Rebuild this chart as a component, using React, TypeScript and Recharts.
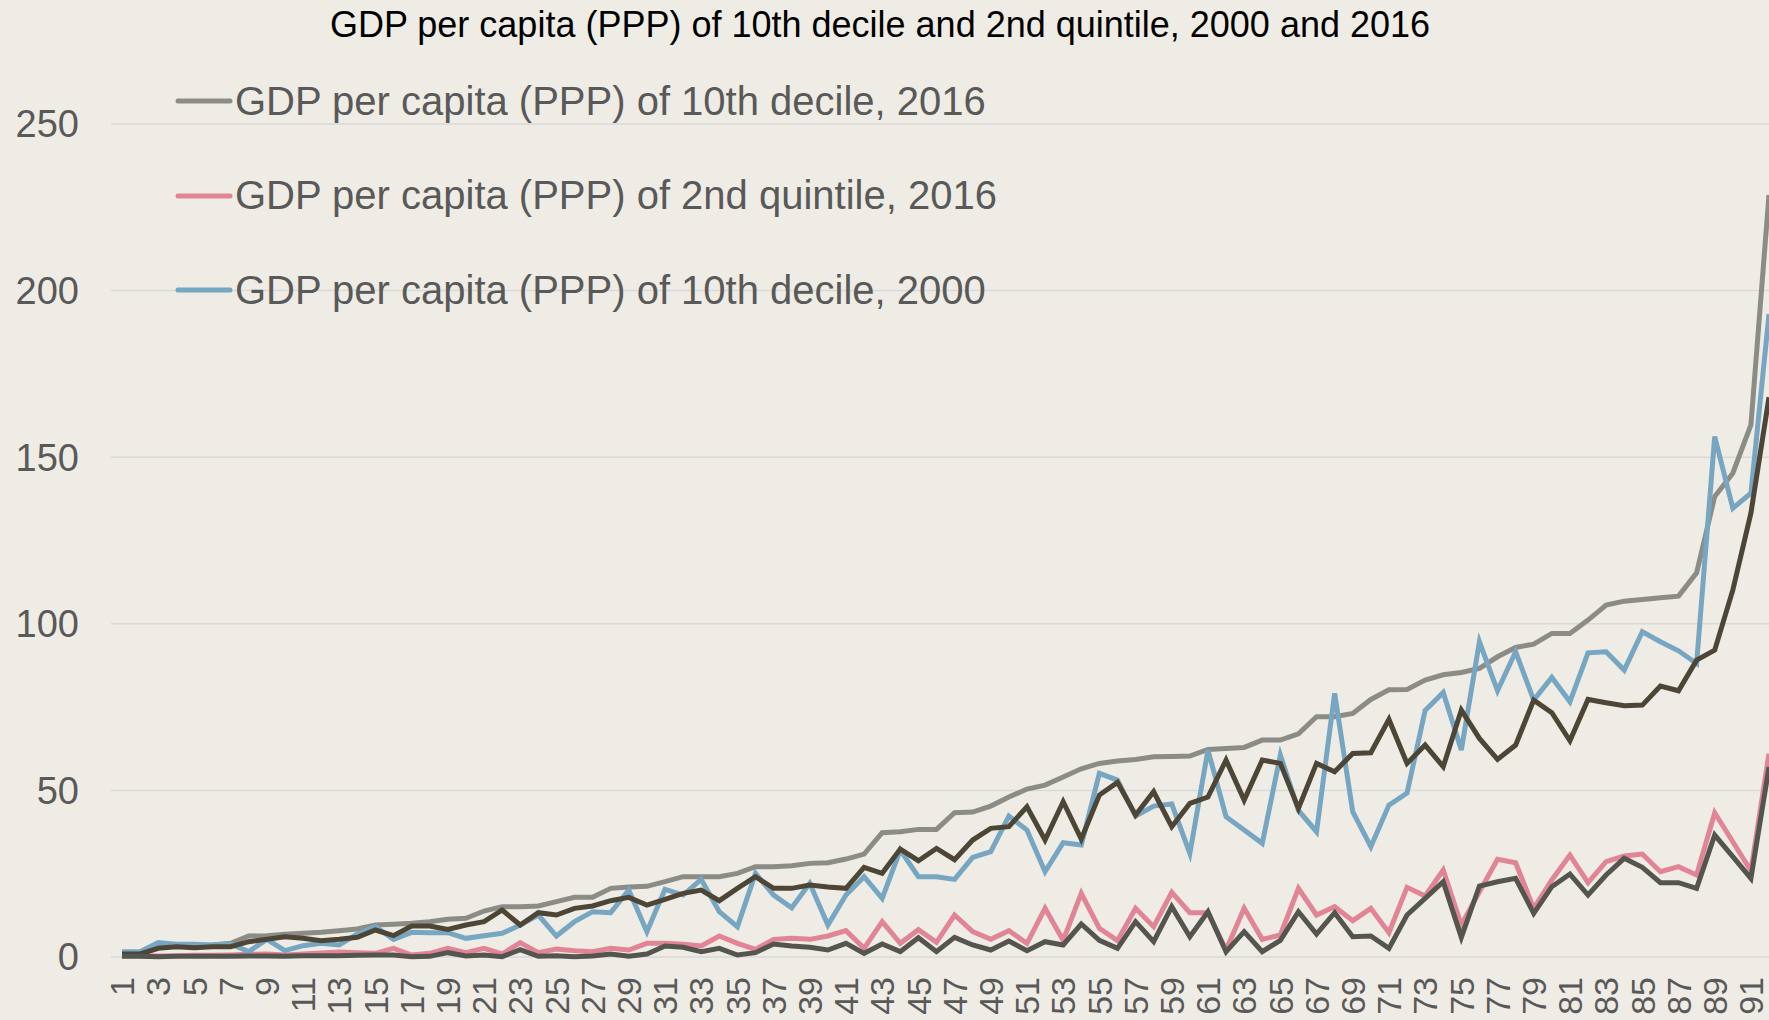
import React from "react";
import { LineChart, Line, XAxis, YAxis, CartesianGrid, Legend } from "recharts";

const categories: number[] = Array.from({ length: 92 }, (_, i) => i + 1);
const xTickLabels: number[] = categories.filter((c) => c % 2 === 1);
const yTicks: number[] = [0, 50, 100, 150, 200, 250];

const titleText = "GDP per capita (PPP) of 10th decile and 2nd quintile, 2000 and 2016";

const seriesNames = {
  d10_2016: "GDP per capita (PPP) of 10th decile, 2016",
  q2_2016: "GDP per capita (PPP) of 2nd quintile, 2016",
  d10_2000: "GDP per capita (PPP) of 10th decile, 2000",
  extraA: "Series 4",
  extraB: "Series 5",
};
const legendOrder: string[] = [seriesNames.d10_2016, seriesNames.q2_2016, seriesNames.d10_2000];

const decile10_2016: number[] = [
  1.3, 1.3, 3.3, 3.4, 3.5, 3.6, 4.1, 6.3, 6.4, 6.8,
  7.1, 7.4, 7.9, 8.4, 9.6, 9.8, 10.1, 10.6, 11.3, 11.6,
  13.8, 15.1, 15.1, 15.3, 16.6, 17.9, 17.9, 20.6, 21.0, 21.2,
  22.6, 24.1, 24.1, 24.1, 25.1, 27.1, 27.1, 27.4, 28.1, 28.3,
  29.4, 30.9, 37.3, 37.6, 38.3, 38.3, 43.3, 43.5, 45.3, 48.0,
  50.4, 51.6, 54.0, 56.5, 58.1, 58.8, 59.3, 60.1, 60.2, 60.3,
  62.3, 62.6, 62.9, 65.1, 65.1, 67.0, 72.1, 72.1, 73.1, 77.3,
  80.2, 80.3, 83.1, 84.7, 85.4, 86.6, 90.1, 92.9, 93.9, 97.1,
  97.1, 101.1, 105.6, 106.8, 107.3, 107.8, 108.3, 115.3, 138.2, 145.2,
  159.7, 228.7,
];

const quintile2_2016: number[] = [
  0.4, 0.4, 0.3, 0.4, 0.5, 0.5, 0.6, 0.8, 0.9, 0.6,
  0.9, 1.2, 1.5, 1.3, 1.1, 2.6, 0.6, 1.1, 2.6, 1.3,
  2.6, 0.9, 4.3, 1.3, 2.4, 1.9, 1.6, 2.6, 2.1, 4.1,
  4.1, 3.8, 3.3, 6.3, 4.1, 2.3, 5.3, 5.6, 5.3, 6.3,
  7.9, 2.6, 10.6, 4.1, 8.2, 4.4, 12.6, 7.6, 5.3, 7.9,
  4.1, 14.6, 5.0, 19.1, 8.6, 4.9, 14.6, 9.1, 19.4, 13.3,
  13.3, 2.1, 14.6, 5.3, 6.6, 20.6, 12.6, 15.1, 10.9, 14.6,
  7.3, 20.9, 18.3, 26.1, 9.6, 19.6, 29.3, 28.3, 14.6, 23.1,
  30.6, 22.3, 28.6, 30.3, 30.9, 25.6, 27.1, 24.6, 43.3, 34.6,
  25.9, 61.0,
];

const decile10_2000: number[] = [
  1.6, 1.6, 4.3, 3.8, 3.8, 3.6, 3.9, 1.6, 5.3, 1.9,
  3.4, 4.1, 3.6, 6.9, 9.1, 5.3, 7.4, 7.3, 7.3, 5.6,
  6.4, 7.1, 9.6, 12.6, 6.3, 10.6, 13.6, 13.3, 20.1, 7.6,
  20.3, 18.6, 23.3, 13.6, 9.1, 25.1, 18.6, 14.8, 22.1, 9.6,
  18.6, 24.1, 17.6, 32.1, 24.1, 24.1, 23.3, 29.9, 31.6, 42.3,
  38.1, 25.6, 34.3, 33.6, 55.1, 53.1, 42.3, 45.3, 45.9, 31.1,
  62.1, 42.1, 38.1, 34.1, 60.6, 44.0, 37.6, 79.1, 43.6, 33.1,
  45.6, 49.2, 74.0, 79.4, 62.1, 94.6, 79.9, 91.6, 77.1, 83.9,
  76.6, 91.3, 91.6, 86.1, 97.6, 94.6, 91.9, 88.1, 156.2, 134.7,
  139.2, 193.0,
];

const extraSeriesA: number[] = [
  0.9, 0.9, 2.6, 3.1, 2.8, 3.1, 3.1, 4.6, 5.3, 6.1,
  5.6, 4.9, 5.3, 5.9, 8.1, 6.4, 9.3, 9.3, 8.3, 9.6,
  10.6, 14.1, 9.6, 13.3, 12.6, 14.6, 15.3, 16.9, 17.9, 15.6,
  17.3, 19.1, 20.1, 16.9, 20.6, 24.1, 20.6, 20.6, 21.6, 21.0,
  20.6, 26.9, 25.1, 32.4, 28.9, 32.6, 29.2, 35.1, 38.6, 39.1,
  45.1, 35.1, 46.6, 35.4, 48.6, 52.4, 42.6, 49.6, 39.1, 46.1,
  48.0, 59.1, 47.1, 59.1, 58.1, 44.6, 58.1, 55.6, 61.1, 61.3,
  71.3, 58.1, 63.6, 57.1, 74.1, 65.6, 59.3, 63.6, 77.1, 73.3,
  64.9, 77.3, 76.3, 75.4, 75.6, 81.3, 79.9, 89.1, 92.1, 110.1,
  133.2, 168.0,
];

const extraSeriesB: number[] = [
  0.2, 0.2, 0.1, 0.2, 0.2, 0.2, 0.2, 0.3, 0.3, 0.2,
  0.4, 0.4, 0.4, 0.5, 0.6, 0.6, 0.1, 0.2, 1.3, 0.3,
  0.6, 0.1, 2.2, 0.2, 0.4, 0.1, 0.3, 0.9, 0.2, 0.9,
  3.3, 2.9, 1.6, 2.6, 0.6, 1.3, 3.9, 3.3, 2.9, 2.1,
  4.1, 1.1, 3.9, 1.6, 5.8, 1.6, 5.9, 3.6, 2.1, 4.8,
  1.9, 4.6, 3.6, 9.9, 5.0, 2.6, 10.6, 4.6, 15.1, 6.1,
  13.6, 1.6, 7.6, 1.6, 5.0, 13.6, 6.9, 13.3, 6.1, 6.3,
  2.6, 12.6, 17.6, 22.6, 5.9, 21.3, 22.6, 23.6, 13.1, 21.1,
  24.9, 18.6, 24.6, 29.6, 26.9, 22.3, 22.3, 20.6, 36.6, 30.1,
  23.6, 57.0,
];

const data = categories.map((c, i) => ({
  cat: c,
  d10_2016: decile10_2016[i],
  q2_2016: quintile2_2016[i],
  d10_2000: decile10_2000[i],
  extraA: extraSeriesA[i],
  extraB: extraSeriesB[i],
}));

const FONT = "'Liberation Sans', Arial, sans-serif";
const TEXT_GRAY = "#595959";
const BG = "#eeece4";
const LINE_W = 5;

const XTick = (props: any) => {
  const { x, y, payload } = props;
  const ty = y + 20;
  return (
    <text
      x={x}
      y={ty}
      transform={`rotate(-90, ${x}, ${ty})`}
      textAnchor="end"
      dy="0.36em"
      fill={TEXT_GRAY}
      fontSize={34}
      fontFamily={FONT}
    >
      {payload.value}
    </text>
  );
};

const LegendContent = (props: any) => {
  const items = (props.payload || [])
    .filter((p: any) => p.type !== "none" && legendOrder.indexOf(p.value) >= 0)
    .slice()
    .sort((a: any, b: any) => legendOrder.indexOf(a.value) - legendOrder.indexOf(b.value));
  return (
    <div style={{ display: "flex", flexDirection: "column" }}>
      {items.map((p: any) => (
        <div
          key={p.value}
          style={{ display: "flex", alignItems: "center", height: 94.5 }}
        >
          <svg width={58} height={10} style={{ marginRight: 2 }}>
            <line x1={3} y1={5} x2={55} y2={5} stroke={p.color} strokeWidth={5} strokeLinecap="round" />
          </svg>
          <span style={{ fontFamily: FONT, fontSize: 40, color: TEXT_GRAY, whiteSpace: "nowrap" }}>
            {p.value}
          </span>
        </div>
      ))}
    </div>
  );
};

export default function App() {
  return (
    <div
      style={{
        position: "fixed",
        left: 0,
        top: 0,
        width: 1769,
        height: 1020,
        overflow: "hidden",
        background: BG,
      }}
    >
      <div
        style={{
          position: "absolute",
          left: 0,
          top: 5,
          width: 1760,
          textAlign: "center",
          fontFamily: FONT,
          fontSize: 36,
          color: "#000",
          lineHeight: "40px",
          zIndex: 2,
        }}
      >
        {titleText}
      </div>
      <LineChart
        width={1769}
        height={1020}
        data={data}
        margin={{ top: 124, right: 0, bottom: 0, left: 0 }}
      >
        <CartesianGrid horizontal vertical={false} stroke="#d9d9d9" strokeWidth={1.5} />
        <XAxis
          dataKey="cat"
          type="number"
          domain={[0.39, 92]}
          allowDataOverflow
          ticks={xTickLabels}
          interval={0}
          axisLine={false}
          tickLine={false}
          tickSize={0}
          tickMargin={0}
          height={63}
          tick={<XTick />}
        />
        <YAxis
          type="number"
          domain={[0, 250]}
          ticks={yTicks}
          width={111}
          axisLine={false}
          tickLine={false}
          tickMargin={26}
          tick={{ fill: TEXT_GRAY, fontSize: 38, fontFamily: FONT }}
        />
        <Legend
          layout="vertical"
          align="center"
          verticalAlign="middle"
          content={<LegendContent />}
          wrapperStyle={{ position: "absolute", top: 54, left: 175, width: "auto", height: "auto" }}
        />
        <Line type="linear" dataKey="d10_2016" name={seriesNames.d10_2016} stroke="#8c8c87" strokeWidth={LINE_W} dot={false} isAnimationActive={false} />
        <Line type="linear" dataKey="q2_2016" name={seriesNames.q2_2016} stroke="#e08496" strokeWidth={LINE_W} dot={false} isAnimationActive={false} />
        <Line type="linear" dataKey="d10_2000" name={seriesNames.d10_2000} stroke="#77a6c2" strokeWidth={LINE_W} dot={false} isAnimationActive={false} />
        <Line type="linear" dataKey="extraA" name={seriesNames.extraA} stroke="#4d4637" strokeWidth={LINE_W} dot={false} legendType="none" isAnimationActive={false} />
        <Line type="linear" dataKey="extraB" name={seriesNames.extraB} stroke="#555550" strokeWidth={LINE_W} dot={false} legendType="none" isAnimationActive={false} />
      </LineChart>
    </div>
  );
}
